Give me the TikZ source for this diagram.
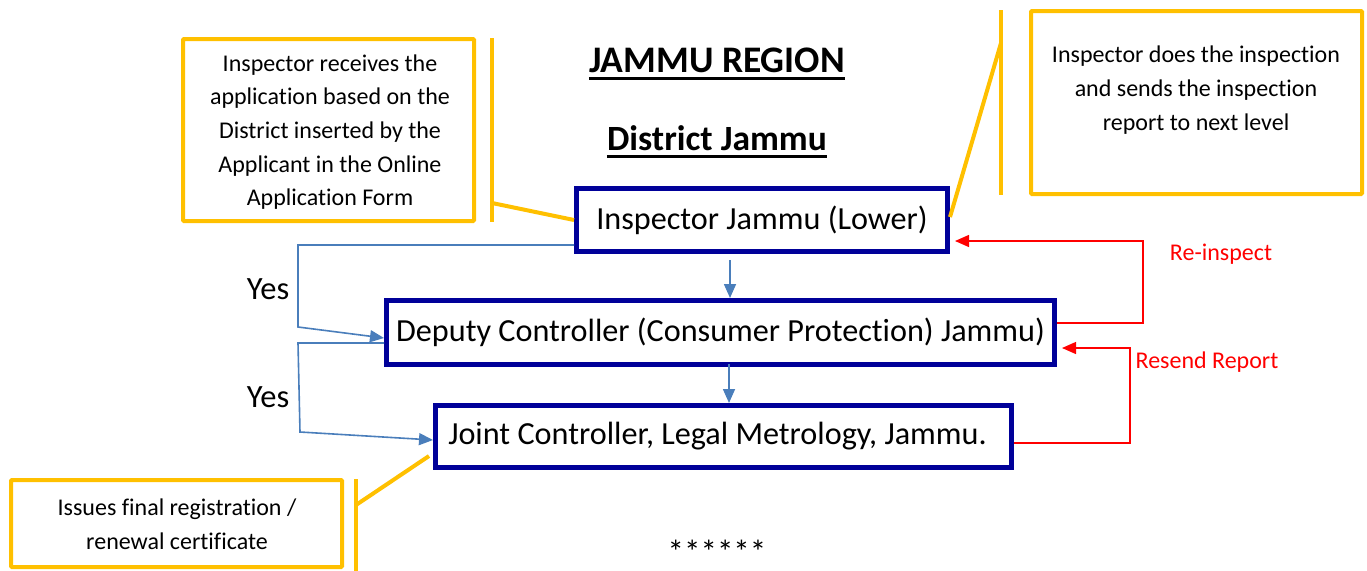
\documentclass[tikz,border=0pt]{standalone}
\usepackage{fontspec}
\setmainfont{Carlito}[Ligatures=NoCommon]
\usetikzlibrary{arrows.meta}
\definecolor{navy}{RGB}{0,0,153}
\definecolor{gold}{RGB}{255,192,0}
\definecolor{lblue}{RGB}{74,126,187}
\definecolor{rred}{RGB}{255,0,0}
\begin{document}
\begin{tikzpicture}[x=1pt,y=-1pt,
  mainbox/.style={draw=navy,line width=5pt,fill=white,inner sep=0pt,font=\fontsize{32.2}{36}\selectfont},
  callbox/.style={draw=gold,line width=4pt,inner sep=0pt,rounded corners=1pt},
  calltext/.style={align=center,inner sep=0pt,font=\fontsize{24}{33.7}\selectfont},
  goldline/.style={draw=gold,line width=4pt},
  bl/.style={draw=lblue,line width=1.6pt,-{Triangle[length=14pt,width=12pt]}},
  rl/.style={draw=rred,line width=1.3pt,-{Triangle[length=14pt,width=12pt]}},
  redlabel/.style={text=rred,inner sep=0pt,font=\fontsize{24}{28}\selectfont},
  yeslabel/.style={inner sep=0pt,font=\fontsize{32.5}{36}\selectfont},
  title/.style={inner sep=0pt,anchor=base,font=\bfseries\fontsize{37.5}{42}\selectfont},
  uline/.style={draw=black,line width=3pt}]
\useasboundingbox (0,0) rectangle (1367,570);
% titles
\node[title] (t1) at (717,72) {JAMMU REGION};
\node[title,font=\bfseries\fontsize{35.5}{40}\selectfont] (t2) at (717,150) {District Jammu};
\draw[uline] ([yshift=-6pt]t1.base west) -- ([yshift=-6pt]t1.base east);
\draw[uline] ([yshift=-6pt]t2.base west) -- ([yshift=-6pt]t2.base east);
% main boxes
\node[mainbox,minimum width=371pt,minimum height=63pt] (insp) at (762,220) {Inspector Jammu (Lower)};
\node[mainbox,minimum width=668pt,minimum height=64pt] (dep) at (720.5,332.5) {Deputy Controller (Consumer Protection) Jammu)};
\node[mainbox,minimum width=576pt,minimum height=62pt] (joint) at (723.5,436.5) {Joint Controller, Legal Metrology, Jammu.\hspace*{12pt}};
% callout boxes
\node[callbox,minimum width=291pt,minimum height=182pt] (c1) at (328.5,130) {};
\node[calltext] (c1t) at (330,132) {Inspector receives the\\application based on the\\District inserted by the\\Applicant in the Online\\Application Form};
\node[callbox,minimum width=331pt,minimum height=183pt] (c2) at (1196.5,102.5) {};
\node[calltext] (c2t) at (1196,90) {Inspector does the inspection\\and sends the inspection\\report to next level};
\node[callbox,minimum width=331pt,minimum height=87pt] (c3) at (176.5,523.5) {};
\node[calltext] (c3t) at (177,524) {Issues final registration /\\renewal certificate};
% callout pointers
\coordinate (p1a) at (492,38); \coordinate (p1b) at (492,222); \coordinate (p1c) at (492,203);
\draw[goldline] (p1a) -- (p1b);
\draw[goldline] (p1c) -- (insp.west);
\coordinate (p2a) at (1001,10); \coordinate (p2b) at (1001,195); \coordinate (p2c) at (1001,43);
\draw[goldline] (p2a) -- (p2b);
\draw[goldline] (p2c) -- ([yshift=3pt]insp.east);
\coordinate (p3a) at (356,479); \coordinate (p3b) at (356,572); \coordinate (p3c) at (356,505);
\coordinate (p3d) at (429,456);
\draw[goldline] (p3a) -- (p3b);
\draw[goldline] (p3c) -- (p3d);
% blue connectors
\coordinate (a1) at (730,0); \coordinate (a2) at (729,0);
\draw[bl] ([yshift=-6pt]insp.south -| a1) -- (dep.north -| a1);
\draw[bl] ([yshift=3pt]dep.south -| a2) -- (joint.north -| a2);
\coordinate (y1a) at (298,245); \coordinate (y1b) at (298,327);
\draw[bl] (insp.west |- y1a) -- (y1a) -- (y1b) -- ([yshift=-5.5pt]dep.west);
\coordinate (y2a) at (298,343); \coordinate (y2b) at (300,432);
\draw[bl] (dep.west |- y2a) -- (y2a) -- (y2b) -- ([yshift=-3.5pt]joint.west);
\node[yeslabel] (yes1) at (268,289) {Yes};
\node[yeslabel] (yes2) at (268,397) {Yes};
% red connectors
\coordinate (r1a) at (1143,323); \coordinate (r1b) at (1143,241);
\draw[rl] (dep.east |- r1a) -- (r1a) -- (r1b) -- ([xshift=5pt]insp.east |- r1b);
\coordinate (r2a) at (1130,443); \coordinate (r2b) at (1130,348);
\draw[rl] (joint.east |- r2a) -- (r2a) -- (r2b) -- ([xshift=5pt]dep.east |- r2b);
\node[redlabel] (re) at (1221,254) {Re-inspect};
\node[redlabel] (rs) at (1207,362) {Resend Report};
% stars
\node[inner sep=0pt,font=\fontsize{33}{36}\selectfont] (stars) at (717,552) {******};
\end{tikzpicture}
\end{document}
